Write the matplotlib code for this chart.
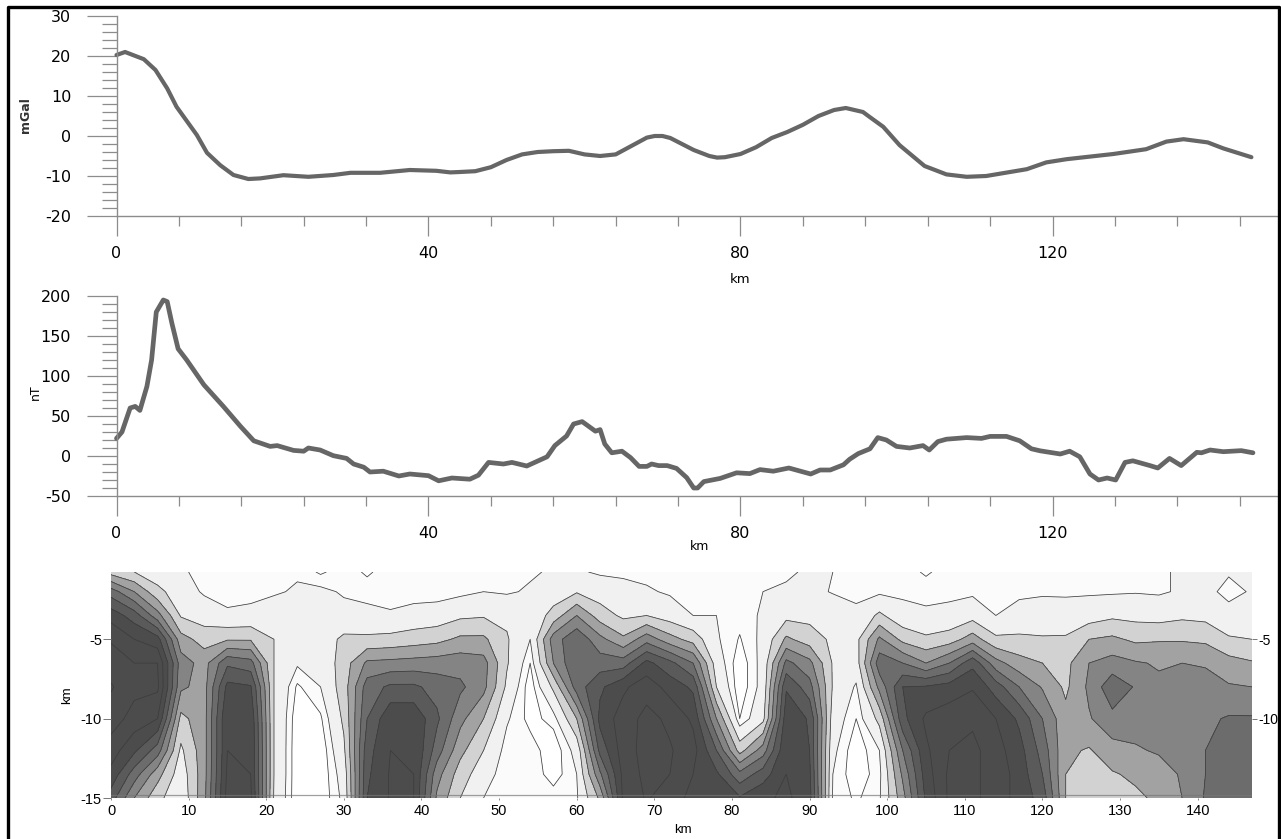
"""
Gravity and magnetic profiles above a resistivity style depth section
"""

import numpy as np
import matplotlib

matplotlib.use("Agg")
import matplotlib.pyplot as plt
from matplotlib.lines import Line2D
from matplotlib.ticker import MultipleLocator

plt.rcParams["axes.unicode_minus"] = False

W, H = 1281, 839

# gravity profile
grav_km = [0, 1.1, 3.5, 5, 6.5, 7.7, 10.3, 11.6, 13.3, 15, 16.9, 18.4, 21.4, 24.6, 27.8, 30, 33.8, 37.6, 41, 42.8,
           44, 46, 48, 50, 52, 54, 56, 58, 60, 62, 64, 66, 68, 69, 70, 71, 72, 74, 76, 77, 78, 80, 82, 84, 86, 88,
           90, 92, 93.5, 95.7, 96.6, 98.3, 100.4, 103.6, 106.4, 109, 111.5, 116.7, 119.2, 121.8, 127.8, 132, 134.6,
           136.8, 139.9, 141.9, 145.5]
grav_mgal = [20.25, 21, 19.2, 16.5, 11.9, 7.3, 0.25, -4.2, -7.3, -9.75, -10.75, -10.6, -9.8, -10.2, -9.75, -9.2, -9.2,
             -8.5, -8.7, -9.1, -9, -8.8, -7.8, -6, -4.6, -4, -3.8, -3.7, -4.6, -5, -4.6, -2.5, -0.4, 0, 0, -0.5, -1.5,
             -3.5, -5, -5.4, -5.3, -4.5, -2.8, -0.5, 1, 2.8, 5, 6.5, 7, 6, 4.7, 2.3, -2.3, -7.5, -9.6, -10.2, -10,
             -8.3, -6.6, -5.8, -4.5, -3.3, -1.4, -0.8, -1.6, -3.1, -5.3]

# magnetic profile
mag_km = [0, 0.7, 1.75, 2.4, 3, 3.9, 4.5, 5.1, 6, 6.5, 7.1, 7.9, 9, 11.2, 13.7, 15.9, 17.6, 19.7, 20.6, 22.7, 24, 24.6,
          26.1, 27.8, 29.5, 30.4, 31.7, 32.5, 34.2, 36.2, 37.6, 40, 41.3, 43, 45.3, 46.4, 47.7, 49.6, 50.7, 52.6,
          55.2, 56.2, 57.7, 58.6, 59.7, 61.4, 62, 62.6, 63.5, 64.8, 65.9, 67, 68, 68.6, 69.5, 70.6, 71.8, 73.1, 74,
          74.5, 75.3, 77.4, 79.5, 81.2, 82.5, 84.2, 86.2, 89, 90.2, 91.5, 93.2, 94, 95.1, 96.6, 97.6, 98.7, 100,
          101.7, 103.4, 104.2, 105.3, 106.4, 109, 110.9, 112, 114.1, 115.8, 117.3, 118.4, 121, 122.2, 123.5, 124.8,
          125.9, 127, 128.1, 129.3, 130.3, 132.5, 133.5, 135, 136.5, 138.5, 139.1, 140.2, 141.9, 144.2, 145.7]
mag_nt = [22, 30, 60, 62, 57, 87, 120, 180, 195, 193, 166, 134, 120, 89, 62, 37, 19, 12, 13, 7, 6, 10, 7.5, 0.4, -3,
          -10, -14, -20, -19, -25, -22.5, -24.6, -31, -27.5, -29, -24, -8, -10, -8, -12.5, -1, 13, 25, 40, 43, 31, 33,
          15, 4, 6, -2, -13, -13, -10, -12, -12, -15.5, -27, -40, -40, -32, -28, -21, -22, -17, -19, -15, -22.5,
          -17.5, -17.5, -11, -4, 3, 9, 23, 20, 12, 10, 13, 7.5, 18, 21, 23, 22, 24.5, 24.5, 19, 9, 6.5, 2.5, 6, -1,
          -22.5, -30, -27.5, -30, -8, -6, -12, -15, -3, -12, 4.6, 4, 7.5, 5.4, 6.7, 4]

# depth section, one row per column of section_x
section_x = np.arange(0, 148, 3)
section_depth = [-0.76, -2, -3.5, -5, -6.5, -8, -10, -12, -13.5, -15]
section_vals = [
    [2.6, 5.5, 7.6, 8.9, 9.5, 10.1, 9.5, 8.5, 7.7, 6.5],
    [2.0, 4.0, 6.5, 8.0, 9.0, 9.3, 8.6, 7.2, 5.5, 4.0],
    [1.4, 2.3, 4.4, 7.4, 9.0, 9.2, 8.0, 5.5, 3.4, 2.3],
    [1.1, 1.4, 1.9, 3.4, 4.5, 4.2, 2.7, 1.8, 1.4, 1.2],
    [0.8, 0.9, 1.5, 2.6, 3.6, 3.6, 3.6, 3.6, 3.6, 3.7],
    [0.7, 0.8, 1.1, 2.9, 5.8, 7.3, 8.0, 8.0, 8.2, 8.4],
    [0.7, 0.8, 1.2, 2.9, 5.4, 7.1, 7.8, 8.0, 8.0, 8.2],
    [0.8, 0.9, 1.5, 2.0, 2.0, 2.0, 2.0, 2.0, 2.0, 1.9],
    [0.9, 1.1, 1.4, 1.5, 1.1, 0.4, 0.1, 0.05, 0.05, 0.05],
    [0.4, 1.2, 1.5, 1.5, 1.2, 1.0, 0.4, 0.05, 0.05, 0.05],
    [0.8, 0.9, 1.3, 2.2, 2.5, 2.5, 2.2, 1.8, 1.4, 1.2],
    [0.4, 0.8, 1.2, 2.2, 4.2, 5.5, 6.0, 6.6, 6.8, 7.0],
    [0.8, 0.7, 1.1, 2.3, 4.3, 6.2, 7.8, 8.0, 8.1, 8.1],
    [0.7, 0.7, 1.3, 2.5, 4.4, 6.2, 7.8, 8.0, 8.0, 8.0],
    [0.6, 0.7, 1.4, 2.7, 4.5, 5.6, 6.2, 5.5, 4.4, 3.8],
    [0.7, 0.8, 1.8, 3.2, 4.6, 5.2, 4.3, 3.3, 2.5, 2.0],
    [0.8, 1.0, 1.9, 3.2, 4.4, 4.3, 3.0, 2.0, 1.4, 1.0],
    [0.8, 0.9, 1.8, 2.1, 2.1, 1.8, 1.1, 0.7, 0.6, 0.6],
    [0.9, 1.1, 1.2, 1.0, 0.5, 0.15, 0.3, 0.8, 0.9, 0.9],
    [1.1, 1.4, 2.4, 4.5, 4.0, 2.2, 0.7, 0.1, 0.2, 0.8],
    [1.1, 1.9, 4.0, 5.8, 6.0, 5.5, 3.0, 1.3, 1.0, 0.9],
    [0.9, 1.5, 2.5, 4.3, 5.5, 6.8, 7.3, 6.3, 4.8, 3.2],
    [0.9, 1.2, 1.8, 3.2, 5.5, 7.8, 8.5, 8.5, 8.3, 8.2],
    [0.8, 1.1, 2.0, 4.6, 7.3, 8.6, 9.3, 9.4, 9.3, 9.1],
    [0.8, 0.9, 1.5, 3.4, 6.3, 7.6, 8.8, 9.1, 9.0, 8.5],
    [0.9, 0.9, 1.0, 2.6, 5.0, 6.8, 7.8, 8.4, 8.0, 7.7],
    [0.9, 0.95, 1.0, 1.1, 1.5, 2.0, 4.0, 6.0, 7.2, 7.5],
    [0.8, 0.7, 0.7, 0.45, 0.1, 0.1, 0.5, 2.6, 5.3, 7.1],
    [0.8, 1.0, 1.1, 1.2, 1.3, 1.3, 1.7, 4.5, 6.5, 7.8],
    [0.9, 1.1, 1.7, 3.2, 5.3, 6.9, 7.6, 7.9, 8.0, 8.2],
    [1.1, 1.2, 1.7, 2.5, 4.3, 5.4, 6.9, 7.0, 7.2, 7.4],
    [1.0, 0.95, 1.5, 1.8, 1.9, 1.9, 1.5, 1.2, 1.0, 0.9],
    [0.8, 0.8, 1.2, 1.7, 1.5, 0.9, 0.5, 0.1, 0.1, 0.4],
    [0.8, 0.85, 2.2, 4.2, 5.6, 4.3, 2.3, 1.0, 0.8, 0.9],
    [0.8, 0.85, 1.3, 2.7, 5.0, 7.0, 6.7, 5.0, 4.2, 3.6],
    [0.4, 0.85, 1.1, 2.2, 4.0, 7.1, 8.2, 7.8, 7.5, 7.2],
    [0.8, 0.85, 1.2, 2.5, 5.0, 7.4, 8.6, 9.0, 9.2, 9.2],
    [0.8, 0.85, 1.6, 3.5, 6.7, 7.9, 8.8, 9.3, 9.2, 9.2],
    [0.7, 0.8, 1.0, 2.2, 4.4, 6.5, 8.0, 8.4, 8.6, 8.6],
    [0.7, 0.85, 1.3, 2.2, 3.4, 5.0, 6.8, 7.4, 7.6, 7.6],
    [0.7, 0.9, 1.4, 2.1, 3.0, 3.9, 5.0, 5.6, 6.0, 6.6],
    [0.7, 0.85, 1.5, 2.1, 2.7, 2.8, 3.3, 3.2, 3.0, 3.0],
    [0.7, 0.9, 1.5, 3.0, 4.0, 4.2, 3.9, 2.9, 2.5, 2.2],
    [0.8, 0.9, 1.8, 3.2, 4.4, 5.7, 4.7, 3.6, 2.9, 2.4],
    [0.8, 0.95, 1.7, 2.8, 4.1, 4.9, 4.4, 3.9, 3.2, 2.8],
    [0.9, 0.9, 1.6, 2.9, 3.9, 4.2, 4.4, 4.1, 3.6, 3.2],
    [1.1, 1.1, 1.8, 2.9, 4.0, 4.3, 4.5, 4.3, 4.1, 4.0],
    [1.2, 1.3, 1.7, 2.8, 3.9, 4.4, 4.8, 5.0, 5.0, 5.1],
    [1.1, 0.7, 1.4, 2.1, 3.4, 4.1, 5.1, 5.2, 5.2, 5.2],
    [1.1, 1.1, 1.2, 2.0, 3.1, 4.0, 5.1, 5.2, 5.2, 5.2],
]

fill_levels = [-1, 0.5, 1, 2, 3, 4, 5, 6, 7, 11]
fill_colors = ["#ffffff", "#fbfbfb", "#f1f1f1", "#d2d2d2", "#a2a2a2", "#848484", "#6c6c6c", "#5a5a5a", "#4c4c4c"]
line_levels = [0.5, 1, 2, 3, 4, 5, 6, 7, 8, 9, 10]

AXIS_GREY = "#8c8c8c"
LINE_GREY = "#666666"


def px_axes(fig, left, top, right, bottom):
    return fig.add_axes([left / W, 1 - bottom / H, (right - left) / W, (bottom - top) / H])


def px_text(fig, x, y, s, **kw):
    fig.text(x / W, 1 - y / H, s, ha="center", va="center", **kw)


def profile_axes(fig, top, bottom, ylim, major, minor, x_km, y_vals, lw):
    ax = px_axes(fig, 116.5, top, 1277, bottom)
    ax.plot(x_km, y_vals, color=LINE_GREY, lw=lw, solid_capstyle="round", clip_on=False)
    ax.set_xlim(0, (1277 - 116.5) / 7.8)
    ax.set_ylim(*ylim)
    ax.xaxis.set_major_locator(MultipleLocator(40))
    ax.xaxis.set_minor_locator(MultipleLocator(8))
    ax.yaxis.set_major_locator(MultipleLocator(major))
    ax.yaxis.set_minor_locator(MultipleLocator(minor))
    for side in ["top", "right"]:
        ax.spines[side].set_visible(False)
    for side in ["left", "bottom"]:
        ax.spines[side].set_color(AXIS_GREY)
        ax.spines[side].set_linewidth(1.0)
    ax.tick_params(axis="y", which="major", length=21.6, width=0.9, color=AXIS_GREY, pad=11, labelsize=11.5)
    ax.tick_params(axis="y", which="minor", length=10.8, width=0.9, color=AXIS_GREY)
    ax.tick_params(axis="x", which="major", length=14.4, width=0.9, color=AXIS_GREY, pad=7, labelsize=11.5)
    ax.tick_params(axis="x", which="minor", length=7.2, width=0.9, color=AXIS_GREY)
    ax.patch.set_alpha(0)
    return ax


fig = plt.figure(figsize=(W / 100, H / 100), dpi=100, facecolor="white")

profile_axes(fig, 16, 216, (-20, 30), 10, 2, grav_km, grav_mgal, 3.0)
profile_axes(fig, 296, 496, (-50, 200), 50, 10, mag_km, mag_nt, 3.4)
px_text(fig, 740, 279, "km", fontsize=9.5)
px_text(fig, 700, 546, "km", fontsize=9)
px_text(fig, 25, 115, "mGal", fontsize=9, rotation=90, fontweight="bold", color="#333333")
px_text(fig, 35, 392, "nT", fontsize=9, rotation=90)

# depth section
ax3 = px_axes(fig, 111, 572, 1252, 798)
vals = np.array(section_vals).T
ax3.contourf(section_x, section_depth, vals, levels=fill_levels, colors=fill_colors)
ax3.contour(section_x, section_depth, vals, levels=line_levels, colors="#3c3c3c", linewidths=0.55)
ax3.axhline(-14.8, color="#777777", lw=0.9, alpha=0.7)
ax3.set_xlim(0, 147)
ax3.set_ylim(-15, -0.76)
ax3.set_xticks(np.arange(0, 141, 10))
ax3.set_yticks([-15, -10, -5])
for spine in ax3.spines.values():
    spine.set_visible(False)
ax3.tick_params(axis="x", length=1.5, width=0.7, color="#888888", labelsize=10.5, pad=2.5)
ax3.tick_params(axis="y", length=5.5, width=0.7, color="#777777", labelsize=10.5, pad=1)
for lab in ax3.get_xticklabels() + ax3.get_yticklabels():
    lab.set_family("Liberation Sans")
ax3r = ax3.twinx()
ax3r.set_ylim(-15, -0.76)
ax3r.set_yticks([-10, -5])
for spine in ax3r.spines.values():
    spine.set_visible(False)
ax3r.tick_params(axis="y", length=3.5, width=0.7, color="#777777", labelsize=10, pad=1)
for lab in ax3r.get_yticklabels():
    lab.set_family("Liberation Sans")
px_text(fig, 683, 830, "km", fontsize=9.5, family="Liberation Sans")
px_text(fig, 67, 695, "km", fontsize=9.5, rotation=90, family="Liberation Sans")

# black frame, open at the bottom
frame_x = np.array([8, 8, 1279, 1279]) / W
frame_y = 1 - np.array([H, 7, 7, H]) / H
fig.add_artist(Line2D(frame_x, frame_y, transform=fig.transFigure, color="black", lw=2.4))

fig.savefig("out.png", dpi=100)
